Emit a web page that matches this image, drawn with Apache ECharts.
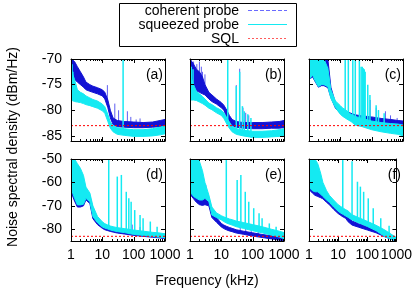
<!DOCTYPE html>
<html><head><meta charset="utf-8">
<script src="https://cdn.jsdelivr.net/npm/echarts@6/dist/echarts.min.js"></script>
<style>html,body{margin:0;padding:0;background:#fff}#c{width:415px;height:291px}</style>
</head><body><div id="c"></div>
<script>
// ---------------- data ----------------
const FREQ = [1,1.3,1.6,2,2.5,3,4,5,7,10,12,15,18,22,30,50,100,200,400,700,1000]; // kHz

// (a)
const A_COH_HI = [-70,-70.5,-71.5,-72.5,-73.5,-74.5,-75,-75.3,-75.6,-76,-76.5,-78,-80,-81.5,-82,-82.2,-82.3,-82.4,-82.3,-82,-81.8];
const A_COH_LO = [-73.5,-74,-74.5,-75,-75.5,-76,-76.3,-76.5,-76.8,-77.2,-77.8,-79.5,-81.5,-82.8,-83.2,-83.3,-83.4,-83.4,-83.3,-83.2,-83.2];
const A_SQZ_HI = [-72,-74,-76,-76.5,-76.8,-77.2,-77.6,-77.9,-78.2,-78.8,-79.3,-80.8,-82.3,-83,-83.4,-83.6,-83.8,-83.8,-83.6,-83.3,-83];
const A_SQZ_LO = [-78,-78.3,-78.4,-78.5,-78.7,-78.9,-79.1,-79.3,-79.6,-80.1,-80.6,-82.2,-83.5,-84.2,-84.7,-84.9,-85.1,-85.1,-85,-84.8,-84.6];
const A_COH_SPIKES = [[1.05,-70],[1.12,-70],[1.2,-70.3],[1.35,-71],[1.5,-71.5],[1.8,-72.2],[14.5,-75.1],[25,-78.7],[33,-80],[63,-80.2],[81,-81.3],[120,-81.8],[160,-81.6]];
const A_SQZ_SPIKES = [[1.02,-70],[1.08,-71],[1.15,-72.5],[46,-70]];

// (b)
const B_COH_HI = [-70,-71,-72,-72.5,-73.5,-75,-76.5,-77,-77.8,-78.5,-79,-80,-81,-81.8,-82.2,-82.4,-82.4,-82.4,-82.3,-82.2,-82];
const B_COH_LO = [-76,-76,-76.2,-76.5,-76.8,-77,-77.8,-78.3,-78.8,-79.5,-80,-81.3,-82.2,-83,-83.3,-83.5,-83.6,-83.6,-83.5,-83.5,-83.4];
const B_SQZ_HI = [-73,-75,-76.3,-76.8,-77.3,-77.8,-78.6,-78.9,-79.5,-80,-80.5,-81.5,-82.3,-83.1,-83.6,-83.9,-84.1,-84.1,-84,-83.8,-83.6];
const B_SQZ_LO = [-78,-78,-78.1,-78.4,-78.7,-79,-79.6,-79.9,-80.5,-81,-81.6,-82.7,-83.5,-84.2,-84.7,-85,-85.3,-85.3,-85.2,-85.1,-85];
const B_COH_SPIKES = [[1.05,-70],[1.1,-70.5],[1.3,-70.5],[1.5,-72],[1.65,-71],[2,-70.5],[2.3,-71.5],[2.5,-72.5],[3,-73],[38.5,-71.9],[30,-75.1],[49,-79.5],[60,-80.5],[75,-81]];
const B_SQZ_SPIKES = [[1.02,-70],[1.1,-71.5],[1.25,-72],[16,-70],[30,-75.3],[38.5,-72.5],[47,-79.2],[54,-80.2],[70,-80.8],[88,-81.5]];

// (c)
const C_COH_HI = [-70,-70,-70,-70,-70,-70,-70,-75.5,-78.6,-79.4,-79.9,-80.3,-80.4,-80.6,-80.9,-81.1,-81.3,-81.6,-81.8,-82,-82.1];
const C_COH_LO = [-74,-73.5,-74.5,-75.5,-75.2,-75.2,-75.6,-77.5,-79.6,-80.6,-81,-81.4,-81.6,-81.8,-82,-82.2,-82.4,-82.7,-83,-83.1,-83.2];
const C_SQZ_HI = [-70,-70,-70,-70,-70,-70,-71.8,-76,-78.2,-79.1,-79.6,-79.9,-80.4,-80.8,-81.2,-81.6,-82.1,-82.4,-82.6,-82.7,-82.9];
const C_SQZ_LO = [-74.1,-73.1,-74.4,-75.4,-75,-75,-75.4,-77.7,-79.5,-80.8,-81.2,-81.6,-81.9,-82.2,-82.9,-83.2,-83.8,-84.2,-84.5,-84.7,-85];
const C_COH_SPIKES = [[90,-78],[140,-79.5],[165,-80],[275,-80.2],[400,-81],[650,-81.5]];
const C_SQZ_SPIKES = [[14.3,-70],[18,-70],[25,-70],[30,-70],[40.5,-70],[46,-71.5],[50,-71.5],[54,-71.8],[58,-72],[62,-72.5],[75,-75],[88,-77],[139,-79],[165,-80],[250,-80.6]];

// (d)
const D_COH_HI = [-50,-52,-55,-57,-60,-63,-66,-71,-75.5,-77.5,-78.2,-78.8,-79.2,-79.5,-79.9,-80.3,-80.9,-81.4,-81.9,-82.2,-82.5];
const D_COH_LO = [-64,-68,-70.5,-70.5,-70,-67.5,-69,-75.5,-78,-79.6,-80.2,-80.6,-80.9,-81.2,-81.6,-82,-82.6,-83,-83.4,-83.7,-84];
const D_SQZ_HI = [-50,-50,-52,-54,-57,-62,-64.5,-70,-74.5,-76.8,-77.6,-78.2,-78.6,-78.9,-79.3,-79.7,-80.3,-80.8,-81.3,-81.6,-81.9];
const D_SQZ_LO = [-62.5,-66.8,-69.6,-69.6,-69.3,-66.8,-68.2,-74.6,-77.2,-79,-79.5,-79.9,-80.3,-80.6,-81,-81.4,-82.2,-82.6,-83.1,-83.4,-83.7];
const D_COH_SPIKES = [[1.05,-50],[1.15,-51],[1.25,-52],[1.4,-54],[1.55,-57],[1.8,-59],[2.1,-61],[2.4,-63],[90,-78],[160,-79]];
const D_SQZ_SPIKES = [[16,-50],[30,-57.5],[40.5,-56.8],[58,-64],[70,-66.8],[83,-68.2],[108,-71.8],[160,-73.9],[200,-75.3],[340,-76.7],[560,-78.9]];

// (e)
const E_COH_HI = [-50,-50,-52,-55,-58,-62,-67,-72.5,-75,-77.5,-78.2,-78.8,-79.2,-79.6,-80.2,-80.8,-81.5,-82.2,-82.8,-83.3,-83.6];
const E_COH_LO = [-65,-67,-68.5,-69.5,-69.8,-69.5,-70,-75,-77,-79,-79.7,-80.3,-80.7,-81,-81.6,-82.1,-82.9,-83.5,-84.1,-84.6,-85];
const E_SQZ_HI = [-50,-50,-50,-51,-55,-60,-65.4,-70.5,-73,-74.2,-74.7,-75.2,-75.6,-75.9,-76.5,-77.1,-78,-78.9,-80,-80.8,-81.4];
const E_SQZ_LO = [-64,-66,-66.8,-67.5,-67.5,-66.8,-68.2,-73.9,-75,-76,-76.7,-77.4,-77.8,-78.2,-78.9,-79.6,-80.6,-81.5,-82.5,-83.3,-84];
const E_COH_SPIKES = [[1.05,-50],[1.2,-50],[1.5,-51],[1.9,-53],[2.3,-56],[3.2,-61],[40,-79],[60,-79.5],[90,-80.3],[150,-81]];
const E_SQZ_SPIKES = [[14.4,-50],[32,-59],[42,-56.8],[58,-64],[75,-68.2],[108,-71],[160,-73.2],[200,-75.3],[340,-77.5],[560,-78.9]];

// (f)
const F_COH_HI = [-50,-51,-53,-56,-59,-62,-66,-67.5,-69.3,-71.8,-72.5,-73.2,-73.8,-75,-76.5,-77.6,-78.8,-79.8,-81.2,-82.6,-83.8];
const F_COH_LO = [-63,-64.5,-65.5,-66,-66.5,-67,-68.5,-69.5,-71.5,-73.3,-74,-74.8,-75.3,-76.8,-78.2,-79.1,-80.3,-81.5,-83.2,-84.4,-85];
const F_SQZ_HI = [-50,-50,-50,-52,-56,-60,-63.5,-65.5,-67.5,-69.5,-70.2,-71,-71.6,-72.2,-73.8,-75,-76.6,-78.3,-80.3,-82.3,-83.5];
const F_SQZ_LO = [-62,-63.5,-64,-64,-65,-66,-67.5,-68.5,-70.5,-72.3,-73,-73.7,-74.3,-74.9,-76,-77.2,-78.8,-80.6,-83.1,-84.3,-85];
const F_COH_SPIKES = [[35,-76],[45,-76.5],[60,-77],[80,-77.8],[120,-78.5],[180,-79.2],[250,-80]];
const F_SQZ_SPIKES = [[14.4,-50],[30,-51],[46,-59.7],[58,-61.8],[75,-64],[108,-66.8],[160,-71],[290,-75.3],[560,-78.5]];

const SQL_LEVEL = [-83,-83,-83,-83,-83,-83]; // dBm/Hz per panel
const PANEL_LABELS = ['(a)','(b)','(c)','(d)','(e)','(f)'];
const X_TICK_VALUES = [1,10,100,1000];
const X_MINOR_TICKS = [2,3,4,5,6,7,8,9,20,30,40,50,60,70,80,90,200,300,400,500,600,700,800,900];
const Y_TICKS_TOP = [-85,-80,-75,-70];
const Y_TICKS_BOTTOM = [-80,-70,-60,-50];
const Y_RANGE_TOP = [-86,-70];
const Y_RANGE_BOTTOM = [-85,-50];
const X_RANGE = [1,1000];
const SERIES_NAMES = ['coherent probe','squeezed probe','SQL'];

const PANELS = [
  {hiC:A_COH_HI, loC:A_COH_LO, hiS:A_SQZ_HI, loS:A_SQZ_LO, spC:A_COH_SPIKES, spS:A_SQZ_SPIKES},
  {hiC:B_COH_HI, loC:B_COH_LO, hiS:B_SQZ_HI, loS:B_SQZ_LO, spC:B_COH_SPIKES, spS:B_SQZ_SPIKES},
  {hiC:C_COH_HI, loC:C_COH_LO, hiS:C_SQZ_HI, loS:C_SQZ_LO, spC:C_COH_SPIKES, spS:C_SQZ_SPIKES},
  {hiC:D_COH_HI, loC:D_COH_LO, hiS:D_SQZ_HI, loS:D_SQZ_LO, spC:D_COH_SPIKES, spS:D_SQZ_SPIKES},
  {hiC:E_COH_HI, loC:E_COH_LO, hiS:E_SQZ_HI, loS:E_SQZ_LO, spC:E_COH_SPIKES, spS:E_SQZ_SPIKES},
  {hiC:F_COH_HI, loC:F_COH_LO, hiS:F_SQZ_HI, loS:F_SQZ_LO, spC:F_COH_SPIKES, spS:F_SQZ_SPIKES}
];

// ---------------- layout & style ----------------
const FONT = '"Liberation Sans", Arial, Helvetica, sans-serif';
const BLUE = '#1212d4', BLUE_SPIKE = 'rgba(40,40,235,0.75)';
const CYAN = '#14eaf2';
const GRID_LEFT = [71, 190, 309];
const GRID_TOP = [59, 159];
const GRID_W = 94, GRID_H = 82;

// lowest band-top value around frequency f (so a spike starts inside its own trace)
function bandTopAt(f, hi) {
  let i = 0;
  while (i < FREQ.length - 2 && FREQ[i + 1] <= f) i++;
  return Math.min(hi[i], hi[i + 1]);
}

const grids = [], xAxes = [], yAxes = [], series = [], graphics = [];

PANELS.forEach((p, g) => {
  const row = Math.floor(g / 3), col = g % 3;
  const yr = row === 0 ? Y_RANGE_TOP : Y_RANGE_BOTTOM;
  const yt = row === 0 ? Y_TICKS_TOP : Y_TICKS_BOTTOM;
  grids.push({left: GRID_LEFT[col], top: GRID_TOP[row], width: GRID_W, height: GRID_H, containLabel: false});
  const axLine = {show: true, onZero: false, lineStyle: {color: '#000', width: 1}};
  xAxes.push({gridIndex: g, type: 'log', logBase: 10, min: X_RANGE[0], max: X_RANGE[1], splitNumber: 3,
    position: 'bottom', z: 10, axisLine: axLine, axisTick: {show: false}, splitLine: {show: false},
    axisLabel: {show: row === 1, fontSize: 14, color: '#000', fontFamily: FONT, margin: 7,
      formatter: v => String(Math.round(v))}});
  xAxes.push({gridIndex: g, type: 'log', logBase: 10, min: X_RANGE[0], max: X_RANGE[1], splitNumber: 3,
    position: 'top', z: 10, axisLine: axLine, axisTick: {show: false}, splitLine: {show: false}, axisLabel: {show: false}});
  yAxes.push({gridIndex: g, type: 'value', min: yr[0], max: yr[1], position: 'left', z: 10,
    axisLine: axLine, splitLine: {show: false},
    axisTick: {show: true, inside: true, length: 4, customValues: yt, lineStyle: {color: '#000'}},
    axisLabel: {show: col === 0, customValues: yt, fontSize: 14, color: '#000', fontFamily: FONT, margin: 9}});
  yAxes.push({gridIndex: g, type: 'value', min: yr[0], max: yr[1], position: 'right', z: 10,
    axisLine: axLine, splitLine: {show: false},
    axisTick: {show: true, inside: true, length: 4, customValues: yt, lineStyle: {color: '#000'}},
    axisLabel: {show: false}});

  const xi = 2 * g, yi = 2 * g;
  const spike = (name, data, hi, color, width) => ({
    type: 'custom', name, xAxisIndex: xi, yAxisIndex: yi, data, encode: {x: 0, y: 1},
    silent: true, animation: false, clip: true,
    renderItem(params, api) {
      const f = api.value(0);
      const a = api.coord([f, api.value(1)]);
      const b = api.coord([f, bandTopAt(f, hi)]);
      return {type: 'line', shape: {x1: a[0], y1: a[1], x2: b[0], y2: b[1]}, style: {stroke: color, lineWidth: width}};
    }
  });
  const band = (name, hi, lo, color) => {
    const rows = FREQ.map((f, i) => [f, hi[i], lo[i]]);
    return {type: 'custom', name, xAxisIndex: xi, yAxisIndex: yi, data: rows, encode: {x: 0, y: [1, 2]},
      silent: true, animation: false, clip: true,
      renderItem(params, api) {
        if (params.dataIndex !== 0) return null;
        const top = rows.map(r => api.coord([r[0], r[1]]));
        const bot = rows.map(r => api.coord([r[0], r[2]])).reverse();
        return {type: 'polygon', shape: {points: top.concat(bot)}, style: {fill: color, stroke: color, lineWidth: 1}};
      }};
  };
  series.push(spike(SERIES_NAMES[0], p.spC, p.hiC, BLUE_SPIKE, 1));
  series.push(band(SERIES_NAMES[0], p.hiC, p.loC, BLUE));
  series.push(spike(SERIES_NAMES[1], p.spS, p.hiS, CYAN, 1.5));
  series.push(band(SERIES_NAMES[1], p.hiS, p.loS, CYAN));
  series.push({type: 'line', name: SERIES_NAMES[2], xAxisIndex: xi, yAxisIndex: yi, symbol: 'none', silent: true, animation: false,
    data: [[X_RANGE[0], SQL_LEVEL[g]], [X_RANGE[1], SQL_LEVEL[g]]],
    lineStyle: {color: '#ff0000', width: 1, type: [2, 2]}, z: 5});
  // x ticks (major + minor, bottom and top edges, inward)
  const tickData = X_TICK_VALUES.map(v => [v, 1]).concat(X_MINOR_TICKS.map(v => [v, 0]));
  series.push({type: 'custom', xAxisIndex: xi, yAxisIndex: yi, data: tickData, encode: {x: 0, y: 1},
    silent: true, animation: false, z: 11,
    renderItem(params, api) {
      const f = api.value(0), len = api.value(1) ? 4 : 2;
      const b = api.coord([f, yr[0]]), t = api.coord([f, yr[1]]);
      const x = Math.round(b[0]) + 0.5;
      return {type: 'group', children: [
        {type: 'line', shape: {x1: x, y1: b[1], x2: x, y2: b[1] - len}, style: {stroke: '#000', lineWidth: 1}},
        {type: 'line', shape: {x1: x, y1: t[1], x2: x, y2: t[1] + len}, style: {stroke: '#000', lineWidth: 1}}
      ]};
    }});
  // panel label
  graphics.push({type: 'text', x: GRID_LEFT[col] + GRID_W - 2, y: GRID_TOP[row] + 16, z: 20,
    style: {text: PANEL_LABELS[g], font: '14px ' + FONT, fill: '#000', textAlign: 'right', textVerticalAlign: 'middle'}});
});

// legend box (no fill, so nothing can be hidden under it)
const LEG_Y = [10, 24, 38];
graphics.push({type: 'rect', shape: {x: 119.5, y: 3.5, width: 177, height: 43}, style: {fill: null, stroke: '#000', lineWidth: 1}, z: 20});
const LEG_COLORS = ['#6a6aff', '#14eaf2', '#ff5a5a'];
const LEG_DASH = [[4, 2], null, [2, 2]];
SERIES_NAMES.forEach((n, i) => {
  graphics.push({type: 'text', x: 239, y: LEG_Y[i] + 0.7, z: 21,
    style: {text: n, font: '14px ' + FONT, fill: '#000', textAlign: 'right', textVerticalAlign: 'middle'}});
  const dash = LEG_DASH[i];
  if (!dash) {
    graphics.push({type: 'rect', z: 22, shape: {x: 248, y: LEG_Y[i], width: 39, height: 1}, style: {fill: LEG_COLORS[i]}});
  } else {
    for (let x = 248; x < 287; x += dash[0] + dash[1]) {
      graphics.push({type: 'rect', z: 22, shape: {x: x, y: LEG_Y[i], width: Math.min(dash[0], 287 - x), height: 1}, style: {fill: LEG_COLORS[i]}});
    }
  }
});
// axis titles
graphics.push({type: 'text', x: 13, y: 147, rotation: Math.PI / 2, z: 20,
  style: {text: 'Noise spectral density (dBm/Hz)', font: '14px ' + FONT, fill: '#000', textAlign: 'center', textVerticalAlign: 'middle'}});
graphics.push({type: 'text', x: 207, y: 281, z: 20,
  style: {text: 'Frequency (kHz)', font: '14px ' + FONT, fill: '#000', textAlign: 'center', textVerticalAlign: 'middle'}});

const chart = echarts.init(document.getElementById('c'), null, {renderer: 'canvas'});
chart.setOption({
  animation: false,
  backgroundColor: '#fff',
  textStyle: {fontFamily: FONT},
  grid: grids, xAxis: xAxes, yAxis: yAxes, series, graphic: graphics
});
</script></body></html>
